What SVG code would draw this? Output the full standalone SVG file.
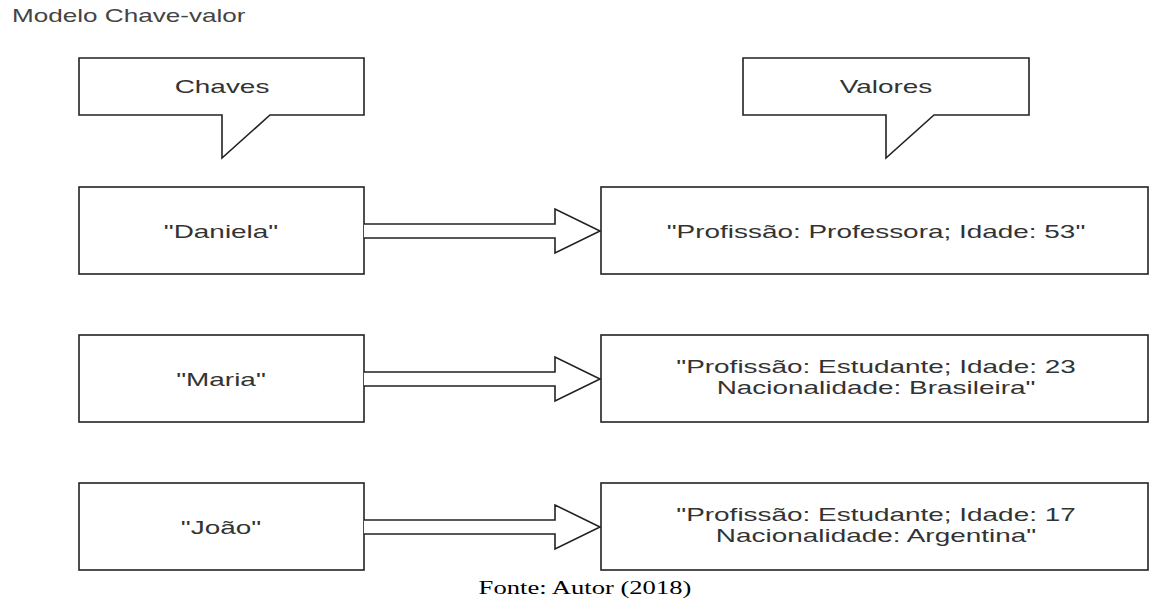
<svg xmlns="http://www.w3.org/2000/svg" width="1171" height="603" viewBox="0 0 1171 603">
<style>
.box{fill:#fff;stroke:#222;stroke-width:1.6}
.arr{fill:#fff;stroke:#222;stroke-width:1.6;stroke-linejoin:miter}
.t{font-family:"Liberation Sans",Arial,sans-serif;font-size:19px;fill:#333;text-anchor:middle}
.title{font-family:"Liberation Sans",Arial,sans-serif;font-size:18px;fill:#444}
.cap{font-family:"Liberation Serif","Times New Roman",serif;font-size:19px;fill:#000;text-anchor:middle}
</style>
<rect width="1171" height="603" fill="#fff"/>
<text class="title" transform="matrix(1.45 0 0 1 12 22)">Modelo Chave-valor</text>
<g id="callout-chaves">
<path class="box" d="M79,58 H364 V115 H270 L222,158 V115 H79 Z"/>
<text class="t" transform="matrix(1.47 0 0 1 222 93)">Chaves</text>
</g>
<g id="callout-valores">
<path class="box" d="M743,58 H1029 V115 H934 L886,158 V115 H743 Z"/>
<text class="t" transform="matrix(1.47 0 0 1 886 93)">Valores</text>
</g>
<g id="key-daniela">
<rect class="box" x="79" y="187" width="285" height="87"/>
<text class="t" transform="matrix(1.47 0 0 1 221 238)">"Daniela"</text>
</g>
<g id="key-maria">
<rect class="box" x="79" y="335" width="285" height="87"/>
<text class="t" transform="matrix(1.47 0 0 1 221 386)">"Maria"</text>
</g>
<g id="key-joao">
<rect class="box" x="79" y="483" width="285" height="87"/>
<text class="t" transform="matrix(1.47 0 0 1 221 534)">"João"</text>
</g>
<g id="val-daniela">
<rect class="box" x="601" y="187" width="547" height="87"/>
<text class="t" transform="matrix(1.47 0 0 1 876 238)">"Profissão: Professora; Idade: 53"</text>
</g>
<g id="val-maria">
<rect class="box" x="601" y="335" width="547" height="87"/>
<text class="t" transform="matrix(1.47 0 0 1 876 373)">"Profissão: Estudante; Idade: 23</text>
<text class="t" transform="matrix(1.47 0 0 1 876 394)">Nacionalidade: Brasileira"</text>
</g>
<g id="val-joao">
<rect class="box" x="601" y="483" width="547" height="87"/>
<text class="t" transform="matrix(1.47 0 0 1 876 521)">"Profissão: Estudante; Idade: 17</text>
<text class="t" transform="matrix(1.47 0 0 1 876 542)">Nacionalidade: Argentina"</text>
</g>
<g id="connectors">
<path class="arr" d="M364,224 H555 V209 L600,231 L555,253 V238 H364"/>
<path class="arr" d="M364,372 H555 V357 L600,379 L555,401 V386 H364"/>
<path class="arr" d="M364,520 H555 V505 L600,527 L555,549 V534 H364"/>
</g>
<text class="cap" transform="matrix(1.4 0 0 1 585 594)">Fonte: Autor (2018)</text>
</svg>
